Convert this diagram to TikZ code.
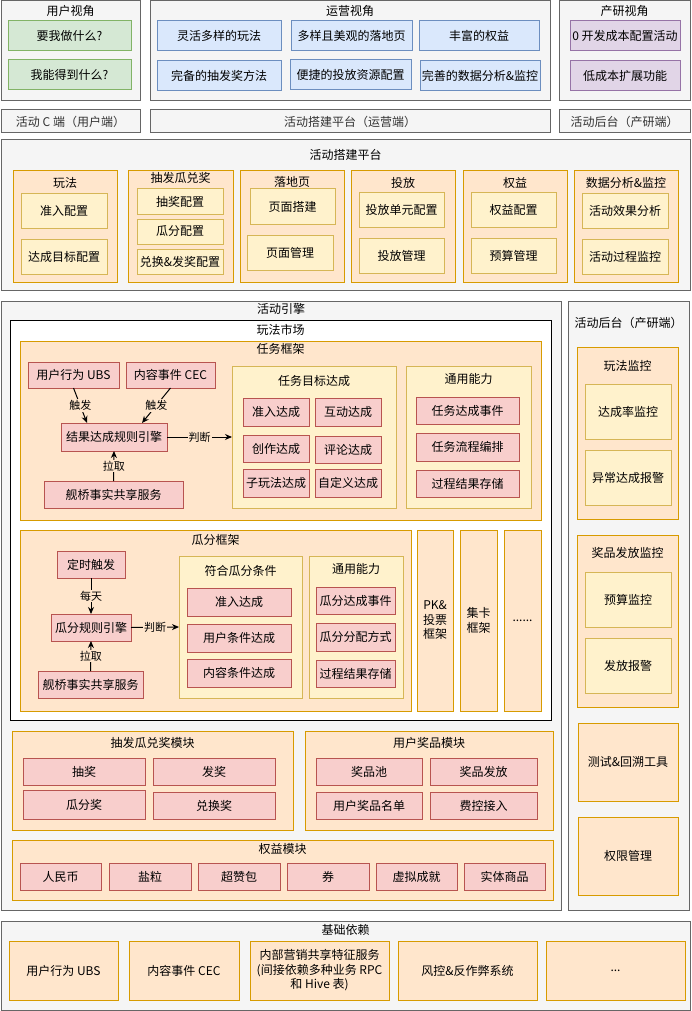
\documentclass[tikz,border=0pt]{standalone}
\usepackage{fontspec}
\setmainfont{Noto Sans CJK SC}
\usetikzlibrary{arrows.meta,calc}
\definecolor{grayF}{HTML}{F5F5F5}
\definecolor{grayS}{HTML}{666666}
\definecolor{gtext}{HTML}{333333}
\definecolor{greenF}{HTML}{D5E8D4}
\definecolor{greenS}{HTML}{82B366}
\definecolor{blueF}{HTML}{DAE8FC}
\definecolor{blueS}{HTML}{6C8EBF}
\definecolor{purpF}{HTML}{E1D5E7}
\definecolor{purpS}{HTML}{9673A6}
\definecolor{orF}{HTML}{FFE6CC}
\definecolor{orS}{HTML}{D79B00}
\definecolor{yeF}{HTML}{FFF2CC}
\definecolor{yeS}{HTML}{D6B656}
\definecolor{reF}{HTML}{F8CECC}
\definecolor{reS}{HTML}{B85450}
\tikzset{
  base/.style={line width=1pt, inner sep=0pt, outer sep=0pt, align=center,
    font=\fontsize{12}{14.5}\selectfont, text=black},
  gbox/.style={base, fill=grayF, draw=grayS, text=gtext},
  grbox/.style={base, fill=greenF, draw=greenS},
  blbox/.style={base, fill=blueF, draw=blueS},
  pubox/.style={base, fill=purpF, draw=purpS},
  obox/.style={base, fill=orF, draw=orS},
  ybox/.style={base, fill=yeF, draw=yeS},
  rbox/.style={base, fill=reF, draw=reS},
  wbox/.style={base, fill=white, draw=black},
  ttl/.style={inner sep=0pt, font=\fontsize{12}{14.5}\selectfont, text=black},
  lbl/.style={inner sep=1pt, fill=orF, font=\fontsize{11}{13}\selectfont, text=black},
  arr/.style={line width=1pt, -{Stealth[length=7pt,width=6pt]}}
}
\newcommand\mkbox[7]{\node[#1, anchor=north west, minimum width={(#5-#3)*1pt}, minimum height={(#6-#4)*1pt}] (#2) at (#3,#4) {#7};}
\begin{document}
\begin{tikzpicture}[x=1pt,y=-1pt]
\useasboundingbox[fill=white] (0,0) rectangle (692,1011);
% ===== top views =====
\mkbox{gbox}{uv}{1}{1}{140}{101}{}
\node[ttl] (uvt) at (70.5,11) {用户视角};
\mkbox{grbox}{uv1}{8}{21}{131}{51}{要我做什么?}
\mkbox{grbox}{uv2}{8}{60}{131}{90}{我能得到什么?}
\mkbox{gbox}{ov}{150}{1}{550}{101}{}
\node[ttl] (ovt) at (350,11) {运营视角};
\mkbox{blbox}{ov1}{157}{21}{281}{51}{灵活多样的玩法}
\mkbox{blbox}{ov2}{291}{21}{412}{51}{多样且美观的落地页}
\mkbox{blbox}{ov3}{419}{21}{539}{51}{丰富的权益}
\mkbox{blbox}{ov4}{157}{61}{281}{91}{完备的抽发奖方法}
\mkbox{blbox}{ov5}{290}{60}{411}{90}{便捷的投放资源配置}
\mkbox{blbox}{ov6}{420}{61}{540}{91}{完善的数据分析\&监控}
\mkbox{gbox}{pv}{559}{1}{690}{101}{}
\node[ttl] (pvt) at (624.5,11) {产研视角};
\mkbox{pubox}{pv1}{570}{21}{680}{51}{0 开发成本配置活动}
\mkbox{pubox}{pv2}{570}{61}{680}{91}{低成本扩展功能}
% ===== end labels =====
\mkbox{gbox}{e1}{1}{110}{140}{133}{活动 C 端（用户端）}
\mkbox{gbox}{e2}{150}{110}{550}{133}{活动搭建平台（运营端）}
\mkbox{gbox}{e3}{559}{110}{690}{133}{活动后台（产研端）}
% ===== platform =====
\mkbox{gbox}{plat}{1}{140}{690}{290}{}
\node[ttl] (platt) at (345.5,155) {活动搭建平台};
\mkbox{obox}{p1}{13}{171}{117}{282}{}
\node[ttl] (p1t) at (65,183) {玩法};
\mkbox{ybox}{p11}{21}{193}{107}{228}{准入配置}
\mkbox{ybox}{p12}{21}{239}{107}{274}{达成目标配置}
\mkbox{obox}{p2}{128}{171}{233}{282}{}
\node[ttl] (p2t) at (180.5,178) {抽发瓜兑奖};
\mkbox{ybox}{p21}{137}{189}{223}{214}{抽奖配置}
\mkbox{ybox}{p22}{137}{219}{223}{244}{瓜分配置}
\mkbox{ybox}{p23}{137}{249}{223}{274}{兑换\&发奖配置}
\mkbox{obox}{p3}{240}{171}{344}{282}{}
\node[ttl] (p3t) at (292,182) {落地页};
\mkbox{ybox}{p31}{250}{189}{335}{224}{页面搭建}
\mkbox{ybox}{p32}{247}{235}{333}{270}{页面管理}
\mkbox{obox}{p4}{351}{171}{455}{282}{}
\node[ttl] (p4t) at (403,183) {投放};
\mkbox{ybox}{p41}{359}{192}{444}{227}{投放单元配置}
\mkbox{ybox}{p42}{359}{238}{444}{273}{投放管理}
\mkbox{obox}{p5}{463}{171}{567}{282}{}
\node[ttl] (p5t) at (515,183) {权益};
\mkbox{ybox}{p51}{471}{192}{556}{227}{权益配置}
\mkbox{ybox}{p52}{471}{238}{556}{273}{预算管理}
\mkbox{obox}{p6}{574}{171}{678}{282}{}
\node[ttl] (p6t) at (626,183) {数据分析\&监控};
\mkbox{ybox}{p61}{582}{193}{668}{228}{活动效果分析}
\mkbox{ybox}{p62}{582}{239}{668}{274}{活动过程监控}
% ===== engine =====
\mkbox{gbox}{eng}{1}{301}{561}{910}{}
\node[ttl] (engt) at (281,309) {活动引擎};
\mkbox{gbox}{back}{568}{301}{689}{910}{}
\node[ttl] (backt) at (628.5,323) {活动后台（产研端）};
\mkbox{wbox}{mkt}{10}{320}{551}{720}{}
\node[ttl] (mktt) at (280.5,330) {玩法市场};
% task framework
\mkbox{obox}{tf}{20}{341}{541}{520}{}
\node[ttl] (tft) at (280.5,349) {任务框架};
\mkbox{rbox}{ubs1}{28}{362}{119}{388}{用户行为 UBS}
\mkbox{rbox}{cec1}{126}{362}{215}{388}{内容事件 CEC}
\mkbox{rbox}{eng1}{61}{423}{167}{451}{结果达成规则引擎}
\mkbox{rbox}{qb1}{44}{481}{183}{508}{舰桥事实共享服务}
\mkbox{ybox}{tgt}{232}{366}{396}{508}{}
\node[ttl] (tgtt) at (314,381) {任务目标达成};
\mkbox{rbox}{t1}{243}{398}{309}{426}{准入达成}
\mkbox{rbox}{t2}{315}{398}{381}{426}{互动达成}
\mkbox{rbox}{t3}{243}{435}{309}{462}{创作达成}
\mkbox{rbox}{t4}{315}{436}{381}{463}{评论达成}
\mkbox{rbox}{t5}{243}{469}{309}{497}{子玩法达成}
\mkbox{rbox}{t6}{315}{469}{381}{497}{自定义达成}
\mkbox{ybox}{cap1}{406}{366}{531}{508}{}
\node[ttl] (cap1t) at (468.5,379) {通用能力};
\mkbox{rbox}{c11}{416}{397}{519}{424}{任务达成事件}
\mkbox{rbox}{c12}{416}{433}{519}{461}{任务流程编排}
\mkbox{rbox}{c13}{416}{470}{519}{497}{过程结果存储}
\draw[arr] (ubs1.south) -- node[lbl] (l1) {触发} ($(eng1.north)+(-27,0)$);
\draw[arr] (cec1.south) -- node[lbl] (l2) {触发} ($(eng1.north)+(28,0)$);
\draw[arr] (eng1.east) -- node[lbl] (l3) {判断} (tgt.west);
\draw[arr] (qb1.north) -- node[lbl] (l4) {拉取} (eng1.south);
% split framework
\mkbox{obox}{gf}{20}{530}{411}{711}{}
\node[ttl] (gft) at (215.5,540) {瓜分框架};
\mkbox{rbox}{tim}{57}{551}{125}{578}{定时触发}
\mkbox{rbox}{eng2}{51}{614}{131}{641}{瓜分规则引擎}
\mkbox{rbox}{qb2}{38}{671}{143}{698}{舰桥事实共享服务}
\mkbox{ybox}{cond}{179}{556}{302}{698}{}
\node[ttl] (condt) at (240.5,571) {符合瓜分条件};
\mkbox{rbox}{g1}{187}{588}{291}{616}{准入达成}
\mkbox{rbox}{g2}{187}{624}{291}{652}{用户条件达成}
\mkbox{rbox}{g3}{187}{659}{291}{687}{内容条件达成}
\mkbox{ybox}{cap2}{309}{556}{403}{698}{}
\node[ttl] (cap2t) at (356,569) {通用能力};
\mkbox{rbox}{c21}{316}{587}{395}{614}{瓜分达成事件}
\mkbox{rbox}{c22}{316}{623}{395}{651}{瓜分分配方式}
\mkbox{rbox}{c23}{316}{660}{395}{687}{过程结果存储}
\draw[arr] (tim.south) -- node[lbl] (l5) {每天} (eng2.north);
\draw[arr] (qb2.north) -- node[lbl] (l6) {拉取} (eng2.south);
\draw[arr] (eng2.east) -- node[lbl] (l7) {判断} (cond.west);
\mkbox{obox}{pk}{417}{530}{453}{711}{PK\&\\投票\\框架}
\mkbox{obox}{jk}{460}{530}{497}{711}{集卡\\框架}
\mkbox{obox}{more1}{504}{530}{541}{711}{......}
% right column
\mkbox{obox}{wm}{577}{347}{678}{519}{}
\node[ttl] (wmt) at (627.5,366) {玩法监控};
\mkbox{ybox}{wm1}{585}{384}{671}{439}{达成率监控}
\mkbox{ybox}{wm2}{585}{450}{671}{505}{异常达成报警}
\mkbox{obox}{jm}{577}{535}{678}{707}{}
\node[ttl] (jmt) at (627.5,553) {奖品发放监控};
\mkbox{ybox}{jm1}{585}{572}{671}{627}{预算监控}
\mkbox{ybox}{jm2}{585}{638}{671}{693}{发放报警}
\mkbox{obox}{tool}{578}{723}{678}{801}{测试\&回溯工具}
\mkbox{obox}{perm}{578}{817}{678}{895}{权限管理}
% modules
\mkbox{obox}{m1}{12}{731}{293}{830}{}
\node[ttl] (m1t) at (152.5,743) {抽发瓜兑奖模块};
\mkbox{rbox}{m11}{23}{758}{145}{785}{抽奖}
\mkbox{rbox}{m12}{153}{758}{275}{785}{发奖}
\mkbox{rbox}{m13}{23}{790}{145}{819}{瓜分奖}
\mkbox{rbox}{m14}{153}{792}{275}{819}{兑换奖}
\mkbox{obox}{m2}{305}{731}{553}{830}{}
\node[ttl] (m2t) at (429,743) {用户奖品模块};
\mkbox{rbox}{m21}{316}{758}{422}{785}{奖品池}
\mkbox{rbox}{m22}{430}{758}{537}{785}{奖品发放}
\mkbox{rbox}{m23}{316}{792}{422}{819}{用户奖品名单}
\mkbox{rbox}{m24}{430}{792}{537}{819}{费控接入}
\mkbox{obox}{m3}{12}{840}{553}{900}{}
\node[ttl] (m3t) at (282.5,849) {权益模块};
\mkbox{rbox}{r1}{20}{863}{101}{890}{人民币}
\mkbox{rbox}{r2}{109}{863}{191}{890}{盐粒}
\mkbox{rbox}{r3}{198}{863}{280}{890}{超赞包}
\mkbox{rbox}{r4}{287}{863}{369}{890}{券}
\mkbox{rbox}{r5}{376}{863}{457}{890}{虚拟成就}
\mkbox{rbox}{r6}{464}{863}{545}{890}{实体商品}
% ===== base deps =====
\mkbox{gbox}{dep}{1}{921}{690}{1010}{}
\node[ttl] (dept) at (345.5,930) {基础依赖};
\mkbox{obox}{d1}{9}{941}{118}{1000}{用户行为 UBS}
\mkbox{obox}{d2}{129}{941}{239}{1000}{内容事件 CEC}
\mkbox{obox}{d3}{250}{941}{389}{1000}{内部营销共享特征服务\\(间接依赖多种业务 RPC\\和 Hive 表)}
\mkbox{obox}{d4}{398}{941}{537}{1000}{风控\&反作弊系统}
\mkbox{obox}{d5}{546}{941}{685}{1000}{...}
\end{tikzpicture}
\end{document}
